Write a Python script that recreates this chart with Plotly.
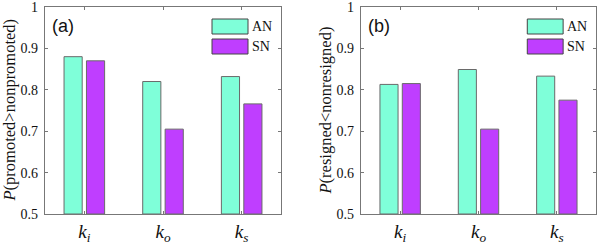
import plotly.graph_objects as go

categories = ["ki", "ko", "ks"]
tick_labels = ["<i>k</i><sub><i>i</i></sub>", "<i>k</i><sub><i>o</i></sub>", "<i>k</i><sub><i>s</i></sub>"]
series_names = ["AN", "SN"]
a_AN = [0.880, 0.820, 0.832]
a_SN = [0.870, 0.705, 0.766]
b_AN = [0.813, 0.849, 0.833]
b_SN = [0.815, 0.705, 0.775]
y_ticks = [0.5, 0.6, 0.7, 0.8, 0.9, 1.0]
y_tick_text = ["0.5", "0.6", "0.7", "0.8", "0.9", "1"]

C_AN = "#7FFFD9"
C_SN = "#BF3EFF"
SERIF = "Liberation Serif"
SANS = "Liberation Sans"
W, H = 599, 246

fig = go.Figure()
xs = [0, 1, 2]
for vals, name, col, xa, ya in [
    (a_AN, "AN", C_AN, "x", "y"), (a_SN, "SN", C_SN, "x", "y"),
    (b_AN, "AN", C_AN, "x2", "y2"), (b_SN, "SN", C_SN, "x2", "y2"),
]:
    fig.add_trace(go.Bar(
        x=xs, y=[v - 0.5 for v in vals], base=0.5, name=name,
        marker=dict(color=col, line=dict(color="#6a6a6a", width=1)),
        xaxis=xa, yaxis=ya, showlegend=False,
        offsetgroup=name,
    ))

ydom = [1 - 214 / H, 1 - 7 / H]
axis_common = dict(showline=True, linecolor="#777777", linewidth=1.3, mirror="ticks",
                   ticks="inside", tickcolor="#777777", ticklen=3, showgrid=False, zeroline=False,
                   automargin=False, ticklabeloverflow="allow")
xaxis_common = dict(axis_common, tickvals=xs, ticktext=tick_labels, range=[-0.5, 2.5],
                    tickfont=dict(family=SERIF, size=19, color="#111"))
yaxis_common = dict(axis_common, tickvals=y_ticks, ticktext=y_tick_text, range=[0.5, 1.0],
                    tickfont=dict(family=SERIF, size=14, color="#111"), ticklabelstandoff=3)

fig.update_layout(
    template="none",
    width=W, height=H, margin=dict(l=0, r=0, t=0, b=0, autoexpand=False),
    paper_bgcolor="white", plot_bgcolor="white",
    barmode="group", bargap=0.43, bargroupgap=0.19,
    xaxis=dict(xaxis_common, domain=[45 / W, 281 / W], anchor="y"),
    yaxis=dict(yaxis_common, domain=ydom, anchor="x"),
    xaxis2=dict(xaxis_common, domain=[361 / W, 596 / W], anchor="y2"),
    yaxis2=dict(yaxis_common, domain=ydom, anchor="x2"),
)

# y-axis titles
for xpx, txt in [(9, "<i>P</i>(promoted&gt;nonpromoted)"), (325, "<i>P</i>(resigned&lt;nonresigned)")]:
    fig.add_annotation(x=xpx / W, y=(ydom[0] + ydom[1]) / 2, xref="paper", yref="paper",
                       text=txt, textangle=-90, showarrow=False,
                       font=dict(family=SERIF, size=16.5, color="#111"), xanchor="center", yanchor="middle")

# panel labels
for xa, ya, lab in [("x", "y", "(a)"), ("x2", "y2", "(b)")]:
    fig.add_annotation(x=0.02, y=0.965, xref=f"{xa} domain", yref=f"{ya} domain", text=lab,
                       showarrow=False, xanchor="left", yanchor="top",
                       font=dict(family=SANS, size=18, color="#111"))

# legends (box + label) per panel
for xa, ya in [("x", "y"), ("x2", "y2")]:
    for i, (name, col) in enumerate([("AN", C_AN), ("SN", C_SN)]):
        y1 = 1 - (12 + 20 * i) / 207
        y0 = 1 - (27 + 20 * i) / 207
        fig.add_shape(type="rect", xref=f"{xa} domain", yref=f"{ya} domain",
                      x0=167 / 236, x1=203 / 236, y0=y0, y1=y1,
                      fillcolor=col, line=dict(color="#444444", width=1))
        fig.add_annotation(x=205 / 236, y=(y0 + y1) / 2, xref=f"{xa} domain", yref=f"{ya} domain",
                           text=name, showarrow=False, xanchor="left", yanchor="middle",
                           font=dict(family=SERIF, size=14, color="#111"))

fig.write_html("out.html", config={"displayModeBar": False},
               post_script="document.body.style.margin='0';document.body.style.padding='0';")
